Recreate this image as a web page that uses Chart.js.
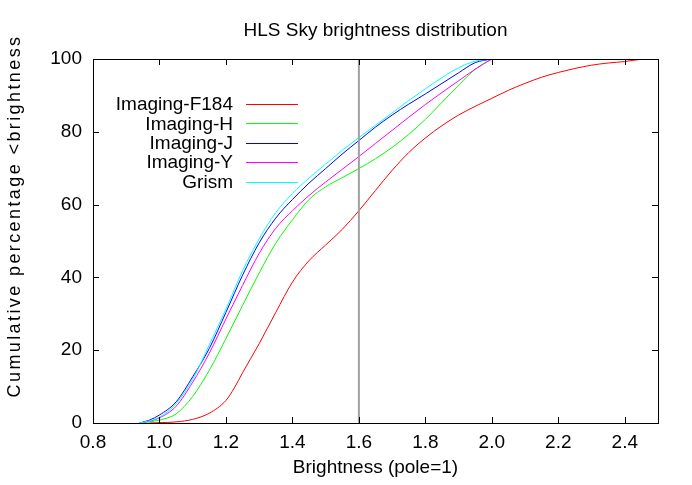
<!DOCTYPE html>
<html>
<head>
<meta charset="utf-8">
<title>HLS Sky brightness distribution</title>
<script src="https://cdn.jsdelivr.net/npm/chart.js@4"></script>
<style>
  html, body { margin: 0; padding: 0; background: #fff; }
  #wrap { width: 692px; height: 485px; }
</style>
</head>
<body>
<div id="wrap"><canvas id="c" width="692" height="485"></canvas></div>
<script>
// ---------------------------- data ----------------------------
const seriesNames = ["Imaging-F184", "Imaging-H", "Imaging-J", "Imaging-Y", "Grism"];
const seriesColors = ["#ff0000", "#00ff00", "#0000ff", "#ff00ff", "#00ffff"];

// shared brightness grid for H, J, Y and Grism
const brightX = [0.94, 0.97, 1.0, 1.05, 1.1, 1.15, 1.2, 1.25, 1.3, 1.35, 1.4, 1.45,
                 1.5, 1.55, 1.6, 1.65, 1.7, 1.75, 1.8, 1.85, 1.9, 1.95, 2.0];
const imagingH = [0, 0.3, 0.8, 2.5, 7.3, 14.5, 23.2, 32.3, 41.2, 49.4, 55.8, 61.4,
                  64.9, 67.4, 69.9, 72.6, 75.7, 79.3, 83.4, 88.1, 92.8, 97.2, 100];
const imagingJ = [0, 0.8, 2.2, 5.8, 12.7, 20.5, 30.4, 40.6, 49.5, 56.3, 61.4, 65.9,
                  69.9, 73.9, 77.6, 81.3, 84.6, 87.6, 90.4, 93.3, 96.2, 99, 100];
const imagingY = [0, 0.5, 1.4, 4.6, 11.2, 19.2, 28.6, 37.8, 46.6, 53.5, 58.3, 62.5,
                  66.2, 69.7, 73.2, 76.8, 80.4, 84, 87.5, 90.8, 94, 97.2, 100];
const grism    = [0, 0.6, 1.6, 5.3, 12, 21.5, 31.3, 41.8, 50.6, 57.8, 63, 67.3,
                  71.1, 74.9, 78.4, 81.8, 85.2, 88.6, 91.8, 94.9, 97.6, 99.4, 100];

// F184 runs further out
const f184X = [0.97, 1.0, 1.05, 1.1, 1.15, 1.2, 1.225, 1.25, 1.3, 1.35, 1.4, 1.45, 1.5,
               1.55, 1.6, 1.65, 1.7, 1.75, 1.8, 1.85, 1.9, 1.95, 2.0, 2.05, 2.1, 2.15,
               2.2, 2.25, 2.3, 2.35, 2.4, 2.43, 2.46];
const f184Y = [0, 0.1, 0.3, 1.0, 2.7, 6.2, 9.6, 13.8, 21.8, 30.4, 38.7, 44.6, 48.9,
               53.2, 58.3, 63.9, 69.4, 74.3, 78.3, 81.7, 84.6, 87, 89.2, 91.4, 93.3, 95,
               96.3, 97.4, 98.3, 98.9, 99.3, 99.7, 100];

// vertical marker at brightness 1.6
const markX = [1.6, 1.6];
const markY = [0, 100];

const xTickStep = 0.2;
const yTickStep = 20;

// --------------------------- helpers --------------------------
const pts = (xs, ys) => xs.map((x, i) => ({ x, y: ys[i] }));
const FAMILY = "'Liberation Sans', Arial, sans-serif";
const FONT = { family: FAMILY, size: 19 };

const curves = [
  pts(f184X, f184Y),
  pts(brightX, imagingH),
  pts(brightX, imagingJ),
  pts(brightX, imagingY),
  pts(brightX, grism)
];

const datasets = curves.map((d, i) => ({
  label: seriesNames[i],
  data: d,
  borderColor: seriesColors[i],
  borderWidth: 1,
  pointRadius: 0,
  fill: false,
  cubicInterpolationMode: "monotone",
  order: 10 - i          // later series on top, like gnuplot
}));
datasets.push({
  label: "",
  isMarker: true,
  data: pts(markX, markY),
  borderColor: "#a0a0a0",
  borderWidth: 2,
  pointRadius: 0,
  order: 0
});

// ---------------- frame + inward ticks (gnuplot look) ----------------
const frameTicks = {
  id: "frameTicks",
  afterDraw(chart) {
    const { ctx, chartArea: a, scales } = chart;
    const len = 6;
    ctx.save();
    ctx.strokeStyle = "#000";
    ctx.lineWidth = 1;
    ctx.strokeRect(a.left + 0.5, a.top + 0.5, a.right - a.left, a.bottom - a.top);
    ctx.beginPath();
    scales.x.ticks.forEach(t => {
      const px = Math.round(scales.x.getPixelForValue(t.value)) + 0.5;
      ctx.moveTo(px, a.bottom); ctx.lineTo(px, a.bottom - len);
      ctx.moveTo(px, a.top);    ctx.lineTo(px, a.top + len);
    });
    scales.y.ticks.forEach(t => {
      const py = Math.round(scales.y.getPixelForValue(t.value)) + 0.5;
      ctx.moveTo(a.left, py);  ctx.lineTo(a.left + len, py);
      ctx.moveTo(a.right, py); ctx.lineTo(a.right - len, py);
    });
    ctx.stroke();

    // y label, rotated, a bit above the middle like the original
    ctx.translate(15.5, 216);
    ctx.rotate(-Math.PI / 2);
    ctx.font = `18px ${FAMILY}`;
    if ("letterSpacing" in ctx) ctx.letterSpacing = "2.4px";
    ctx.fillStyle = "#000";
    ctx.textAlign = "center";
    ctx.textBaseline = "middle";
    ctx.fillText("Cumulative percentage <brightness", 0, 0);
    ctx.restore();
  }
};

// ------------- key inside plot: right-aligned text, sample on right -------------
const keyBox = {
  id: "keyBox",
  afterDatasetsDraw(chart) {
    const { ctx } = chart;
    const textRight = 233, lineFrom = 246, lineTo = 298, top = 104, step = 19.4;
    ctx.save();
    ctx.font = `${FONT.size}px ${FAMILY}`;
    ctx.textAlign = "right";
    ctx.textBaseline = "middle";
    let row = 0;
    chart.data.datasets.forEach(ds => {
      if (ds.isMarker) return;
      const y = top + row * step;
      ctx.fillStyle = "#000";
      ctx.fillText(ds.label, textRight, y + 1);
      ctx.strokeStyle = ds.borderColor;
      ctx.lineWidth = 1;
      ctx.beginPath();
      ctx.moveTo(lineFrom, Math.round(y) + 0.5);
      ctx.lineTo(lineTo, Math.round(y) + 0.5);
      ctx.stroke();
      row++;
    });
    ctx.restore();
  }
};

// ---------------------------- chart ----------------------------
new Chart(document.getElementById("c"), {
  type: "line",
  data: { datasets },
  plugins: [frameTicks, keyBox],
  options: {
    responsive: false,
    animation: false,
    layout: { padding: { left: 0, right: 34, top: 0, bottom: 0 } },
    plugins: {
      legend: { display: false },
      tooltip: { enabled: false },
      title: {
        display: true,
        fullSize: false,
        text: "HLS Sky brightness distribution",
        color: "#000",
        font: { ...FONT, weight: "normal" },
        padding: { top: 19, bottom: 17.2 }
      }
    },
    scales: {
      x: {
        type: "linear",
        min: 0.8,
        max: 2.5,
        grid: { display: false, drawTicks: false },
        border: { display: false },
        ticks: { stepSize: xTickStep, includeBounds: false, color: "#000", font: FONT, padding: 8, maxRotation: 0 },
        title: { display: true, text: "Brightness (pole=1)", color: "#000", font: FONT, padding: { top: 0, bottom: 6 } },
        afterFit(s) { s.height = 62; }
      },
      y: {
        min: 0,
        max: 100,
        grid: { display: false, drawTicks: false },
        border: { display: false },
        ticks: { stepSize: yTickStep, color: "#000", font: FONT, padding: 11 },
        afterFit(s) { s.width = 93; }
      }
    }
  }
});
</script>
</body>
</html>
